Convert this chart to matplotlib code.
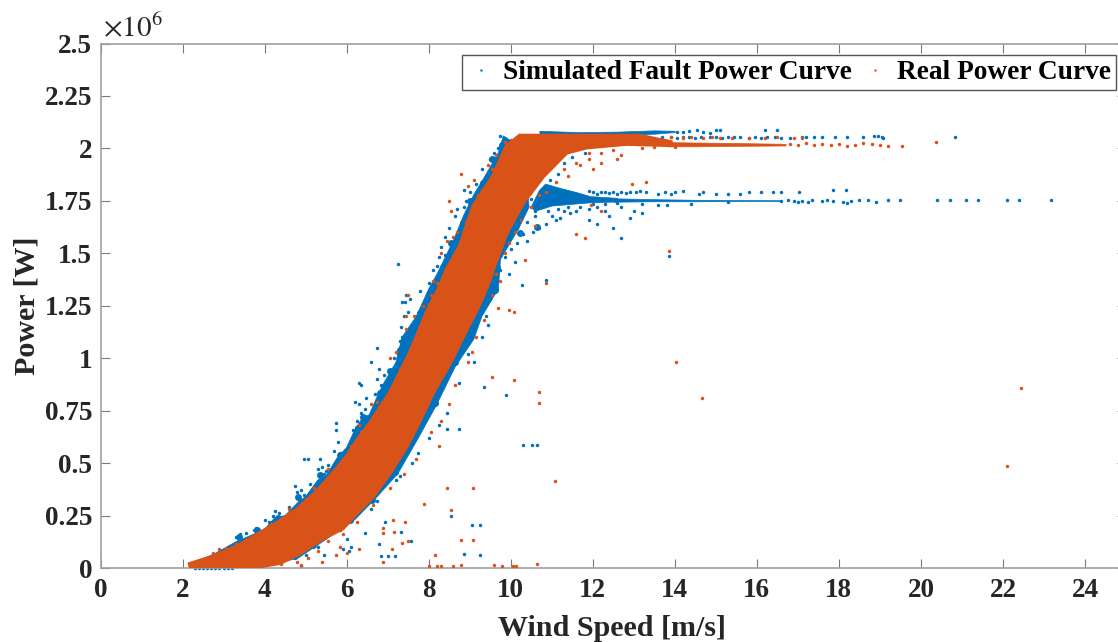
import numpy as np
import matplotlib
matplotlib.use('Agg')
import matplotlib.pyplot as plt

plt.rcParams['font.family'] = ['Liberation Serif', 'DejaVu Serif']
plt.rcParams['mathtext.fontset'] = 'stix'

blue = '#0072BD'
orange = '#D95319'
grey = '#7a7a7a'
text_col = '#262626'

# Dense part of the real curve, outline (wind m/s, power MW)
orange_core = [(2.18, .019), (2.75, .054), (3.24, .094), (3.81, .157), (4.29, .213), (4.78, .277), (5.27, .364),
               (5.67, .452), (6.0, .531), (6.32, .626), (6.57, .69), (7.05, .833), (7.54, 1.024), (7.95, 1.216),
               (8.27, 1.342), (8.44, 1.422), (8.76, 1.533), (9.09, 1.724), (9.57, 1.867), (9.9, 2.01), (10.22, 2.06),
               (11.44, 2.06), (13.15, 2.06), (13.5, 2.045), (13.9, 2.03), (13.9, 2.016), (12.82, 2.022), (11.85, 2.005),
               (11.36, 1.98), (10.79, 1.867), (10.3, 1.74), (9.9, 1.597), (9.56, 1.42), (9.49, 1.374), (9.25, 1.262),
               (8.92, 1.135), (8.52, .977), (8.1, .833), (7.7, .67), (7.46, .579), (7.05, .451), (6.64, .34),
               (6.24, .261), (5.91, .19), (5.43, .142), (4.86, .07), (4.37, .024), (3.81, .006), (3.4, .004), (2.2, .004)]

# Solid parts of the fault curve
blue_core = [(2.2, .02), (2.8, .07), (3.3, .125), (3.6, .15), (4.0, .185), (4.25, .24), (4.5, .25), (4.85, .32), (5.0, .34),
             (5.3, .42), (5.5, .44), (5.75, .52), (6.0, .575), (6.2, .66), (6.4, .72), (6.55, .73), (6.75, .82), (6.9, .88),
             (7.2, .98), (7.35, 1.1), (7.7, 1.2), (8.0, 1.33), (8.2, 1.4), (8.35, 1.46), (8.6, 1.56), (8.85, 1.68), (9.1, 1.78),
             (9.35, 1.86), (9.7, 1.98), (9.82, 2.06), (10.3, 2.0), (10.45, 1.72), (10.2, 1.62), (9.75, 1.47), (9.7, 1.33),
             (9.3, 1.2), (9.1, 1.09), (8.65, .96), (8.2, .78), (7.75, .62), (7.25, .45), (6.7, .33), (6.2, .23), (5.3, .11),
             (4.8, .045), (3.7, 0), (2.2, 0)]
blue_blob = [(10.5, 1.72), (10.7, 1.80), (10.85, 1.83), (11.2, 1.81), (11.6, 1.79), (11.95, 1.77), (12.6, 1.762), (12.6, 1.745),
             (11.9, 1.74), (11.0, 1.725), (10.6, 1.70)]
blue_fault_x = [12.5, 13.5, 14.5, 15.5, 16.6]
blue_fault_lo = [1.746, 1.748, 1.748, 1.749, 1.750]
blue_fault_hi = [1.762, 1.758, 1.755, 1.754, 1.753]
blue_top_x = [10.7, 11.3, 11.7, 12.6, 13.5, 14.0]
blue_top_lo = [2.066, 2.066, 2.066, 2.066, 2.07, 2.078]
blue_top_hi = [2.084, 2.08, 2.078, 2.08, 2.086, 2.084]
orange_tail_x = [13.8, 14.5, 15.3, 16.0, 16.7]
orange_tail_lo = [2.01, 2.01, 2.012, 2.013, 2.014]
orange_tail_hi = [2.03, 2.028, 2.026, 2.024, 2.022]

# Blotches of blue along both edges of the band
blue_clusters = [(3.37, .148), (3.81, .181), (4.32, .239), (4.81, .339), (5.35, .444), (5.84, .539), (6.27, .668),
                 (6.40, .72), (6.81, .835), (7.05, .94), (7.30, 1.04), (7.55, 1.13), (7.79, 1.217), (8.32, 1.398),
                 (8.35, 1.436), (8.55, 1.55), (8.83, 1.646), (9.0, 1.75), (9.32, 1.837), (9.55, 1.95), (9.78, 2.018),
                 (7.18, .458), (6.61, .324), (6.08, .229), (5.18, .11), (8.15, .787), (8.64, .983), (9.08, 1.15),
                 (9.61, 1.326), (9.66, 1.436), (10.22, 1.598), (10.64, 1.627), (7.4, 1.08), (8.1, 1.33), (9.2, 1.2)]

blue_pts = [
    (2.3, 0), (2.4, 0), (2.5, 0), (2.6, 0), (2.7, 0), (2.8, 0), (2.9, 0), (3.0, 0), (3.1, 0), (3.2, 0),
    (3.31, .15), (3.4, .16), (3.55, .165), (3.75, .18), (3.8, .19), (3.85, .175), (4.0, .23), (4.2, .25), (4.25, .27),
    (4.3, .23), (4.35, .26), (4.4, .22), (4.75, .39), (4.8, .36), (4.85, .33), (4.9, .37), (4.95, .35),
    (4.97, .52), (5.05, .52), (5.35, .52), (5.3, .47), (5.4, .48), (5.45, .45), (5.5, .46), (5.6, .44),
    (5.75, .69), (5.75, .66), (5.8, .6), (5.7, .56), (5.85, .55), (5.95, .53), (6.05, .5), (6.15, .66), (6.25, .7),
    (6.2, .79), (6.3, .78), (6.35, .74), (6.4, .71), (6.45, .76), (6.5, .69), (6.35, .87), (6.3, .88),
    (6.48, .81), (6.65, .73), (6.7, .83), (6.75, .9), (6.8, .95), (6.85, .87), (6.93, .82), (6.6, .98),
    (6.75, 1.05), (7.25, 1.02), (7.3, 1.08), (7.35, 1.1), (7.32, 1.15), (7.4, 1.2), (7.5, 1.22), (7.55, 1.28),
    (7.35, 1.27), (7.42, 1.27), (7.7, 1.2), (7.8, 1.32), (7.85, 1.26), (8.0, 1.36), (8.1, 1.42), (8.2, 1.44),
    (8.25, 1.48), (8.3, 1.53), (8.4, 1.58), (8.5, 1.62), (8.65, 1.68), (8.7, 1.71), (8.85, 1.72), (8.9, 1.75),
    (9.0, 1.79), (9.15, 1.83), (9.3, 1.9), (9.4, 1.87), (9.5, 1.95), (9.6, 1.98), (9.7, 2.0), (9.75, 2.06),
    (8.6, 1.55), (7.25, 1.45), (7.45, 1.3), (8.85, 1.8), (8.4, 1.49), (7.95, 1.3), (7.65, 1.16), (7.15, 1.0),
    (6.9, .92), (6.2, .62), (6.0, .56), (5.55, .49), (5.1, .4), (4.6, .29), (4.1, .22),
    (10.0, 1.52), (10.15, 1.55), (10.3, 1.59), (10.4, 1.56), (10.55, 1.6), (10.7, 1.62), (10.85, 1.64),
    (11.0, 1.68), (11.1, 1.66), (11.2, 1.67), (11.3, 1.7), (11.45, 1.69), (11.6, 1.7), (9.75, 1.42), (9.85, 1.48),
    (9.95, 1.4), (10.1, 1.46), (12.1, 1.72), (12.3, 1.7), (12.4, 1.68), (12.7, 1.72), (13.0, 1.7), (13.2, 1.69),
    (10.4, 1.65), (10.6, 1.68), (10.9, 1.7), (11.15, 1.71), (11.4, 1.72), (11.7, 1.72), (11.9, 1.71), (12.0, 1.735),
    (10.35, 1.72), (10.5, 1.76), (10.6, 1.7), (10.45, 1.79), (10.55, 1.83), (10.25, 1.68), (10.15, 1.62),
    (8.72, 1.05), (8.95, 1.02), (9.1, .98), (8.75, .88), (8.45, .74), (8.25, .68), (8.0, .62), (7.75, .55),
    (7.6, .5), (7.3, .44), (7.2, .42), (6.75, .32), (6.6, .28), (5.85, .18), (6.0, .14), (5.9, .09), (6.05, .08),
    (6.1, .1), (5.0, .06), (4.75, .05), (4.9, .01), (5.3, .1), (5.45, .06), (6.45, .167), (6.8, .116),
    (6.93, .22), (7.32, .17), (7.58, .13), (7.19, .059), (7.02, .059), (6.84, .059), (9.4, 1.2), (9.5, 1.28),
    (9.45, 1.16), (9.3, 1.1),
    # upper plateau strand
    (14.05, 2.08), (14.2, 2.078), (14.35, 2.082), (14.55, 2.088), (14.7, 2.08), (14.85, 2.075), (15.0, 2.09), (15.1, 2.09),
    (16.2, 2.09), (16.5, 2.09),
    # blue strand just above the real tail
    (12.95, 2.052), (13.1, 2.05), (13.3, 2.055), (13.5, 2.05), (13.7, 2.052), (13.9, 2.055), (14.05, 2.05), (14.2, 2.056),
    (14.35, 2.054), (14.5, 2.05), (14.65, 2.055), (14.85, 2.052), (15.0, 2.055), (15.15, 2.05), (15.3, 2.056), (15.45, 2.052),
    (15.6, 2.055), (15.8, 2.05), (15.95, 2.055), (16.1, 2.05), (16.25, 2.055), (16.45, 2.052), (16.6, 2.05), (16.8, 2.05),
    (17.1, 2.052), (17.2, 2.055), (17.4, 2.056), (17.6, 2.053), (17.9, 2.056), (18.2, 2.056), (18.6, 2.052), (18.85, 2.058),
    (18.95, 2.057), (19.05, 2.056), (19.07, 2.05), (20.84, 2.053),
    # upper fault strand
    (11.9, 1.795), (12.0, 1.79), (12.1, 1.785), (12.2, 1.79), (12.3, 1.793), (12.4, 1.788), (12.5, 1.792), (12.6, 1.785),
    (12.7, 1.79), (12.8, 1.787), (12.9, 1.793), (13.05, 1.79), (13.15, 1.795), (13.3, 1.79), (13.6, 1.783), (13.75, 1.79),
    (13.9, 1.785), (14.0, 1.793), (14.2, 1.795), (14.6, 1.785), (14.7, 1.79), (15.0, 1.785), (15.3, 1.785), (15.6, 1.785),
    (15.8, 1.79), (16.1, 1.79), (16.4, 1.79), (16.6, 1.79), (17.04, 1.79), (17.85, 1.8), (18.17, 1.8),
    # lower fault line
    (11.9, 1.752), (12.3, 1.735), (12.6, 1.74), (13.2, 1.735), (13.6, 1.73), (13.8, 1.728), (14.4, 1.735), (15.3, 1.745),
    (16.6, 1.748), (16.75, 1.752), (16.9, 1.75), (17.0, 1.745), (17.1, 1.75), (17.25, 1.745), (17.35, 1.752), (17.6, 1.748),
    (17.7, 1.752), (17.85, 1.75), (18.1, 1.745), (18.2, 1.74), (18.3, 1.75), (18.5, 1.752), (18.7, 1.752), (18.9, 1.745),
    (19.2, 1.752), (19.5, 1.752), (20.4, 1.752), (20.7, 1.752), (21.1, 1.752), (21.4, 1.752), (22.1, 1.752), (22.4, 1.752),
    (23.17, 1.752),
    # lone points
    (12.7, 1.574), (13.86, 1.489), (10.27, 1.35), (10.85, 1.375), (9.35, .865), (9.88, .825), (10.3, .587),
    (10.52, .587), (10.63, .587), (8.44, .663), (8.75, .663), (8.54, .246), (9.06, .203), (9.24, .203),
    (8.85, .068), (9.24, .06), (11.3, 1.93), (11.5, 1.96), (11.15, 1.88), (10.95, 1.85), (11.8, 1.98),
    (12.1, 1.64), (12.5, 1.62), (11.9, 1.66), (12.9, 1.67),
]

orange_pts = [
    (2.5, .04), (2.75, .07), (2.9, .09), (3.05, .095), (3.2, .1), (3.3, .115), (3.6, .13), (3.95, .16), (4.15, .21),
    (4.5, .22), (4.6, .28), (4.65, .25), (5.0, .33), (5.2, .38), (5.4, .39), (5.55, .47), (5.75, .47), (5.95, .52),
    (6.1, .58), (6.3, .68), (6.35, .65), (6.6, .78), (6.75, .79), (7.05, 1.0), (7.2, 1.03), (7.3, .95), (7.45, 1.14),
    (7.65, 1.2), (7.5, 1.3), (7.85, 1.25), (8.1, 1.37), (8.2, 1.36), (8.3, 1.5), (8.45, 1.56), (8.55, 1.7), (8.7, 1.6),
    (8.9, 1.65), (8.95, 1.82), (9.1, 1.85), (9.3, 1.8), (9.45, 1.92), (9.55, 1.9), (9.65, 1.97), (9.85, 2.03), (10.0, 2.04),
    (8.8, 1.88), (8.5, 1.75), (8.6, 1.58), (8.05, 1.3), (7.45, 1.2), (9.2, 1.78), (9.7, 1.93), (8.0, 1.26),
    (9.65, 1.4), (9.75, 1.37), (9.95, 1.55), (10.1, 1.6), (10.35, 1.47), (10.6, 1.63), (9.7, 1.24), (9.15, 1.1),
    (8.95, .98), (8.65, .87), (8.5, .78), (8.3, .7), (8.05, .65), (7.7, .52), (7.4, .45), (7.05, .38), (6.65, .3),
    (6.25, .22), (5.9, .16), (5.55, .13), (5.3, .08), (5.05, .05), (4.8, .03), (4.4, .02), (5.85, .1), (6.0, .07),
    (6.3, .09), (5.4, .03), (4.9, .015), (5.75, .06), (9.35, 1.18), (9.55, 1.3), (9.85, 1.5), (10.25, 1.66), (10.5, 1.72),
    (10.85, 1.79), (11.1, 1.84), (11.3, 1.9), (11.6, 1.93), (11.9, 1.95), (11.4, 1.87), (10.7, 1.78), (9.05, 1.03),
    (6.88, .19), (6.88, .167), (7.13, .227), (7.43, .22), (7.16, .17), (7.36, .12), (7.49, .13), (7.1, .09), (6.88, .027),
    (8.26, .58), (8.45, .38), (9.09, .38), (7.89, .305), (8.54, .275), (8.78, .135), (9.09, .135), (8.15, .06),
    (8.0, .008), (8.2, .01), (8.3, .01), (8.6, .008), (8.8, .012), (9.6, .012), (9.8, .01), (10.05, .01), (10.12, .008),
    (10.65, .017), (9.54, .91), (10.07, .897), (10.7, .838), (10.7, .786), (11.07, .417), (9.96, 1.23), (10.07, 1.22),
    (10.85, 1.36), (11.8, 1.574), (12.6, 1.95), (12.0, 1.9), (11.7, 1.92), (12.2, 1.93), (12.7, 1.97), (13.2, 2.0),
    (11.9, 1.98), (12.2, 1.98), (12.5, 1.99), (13.5, 2.005), (14.0, 2.005), (14.02, .983), (14.66, .811),
    (22.43, .859), (22.09, .487), (13.86, 1.512), (12.2, 1.7), (12.95, 1.83), (13.3, 1.84), (11.95, 1.73), (11.6, 1.59),
    (16.8, 2.02), (17.0, 2.018), (17.2, 2.025), (17.4, 2.015), (17.6, 2.02), (17.8, 2.015), (18.0, 2.02), (18.2, 2.012),
    (18.4, 2.018), (18.6, 2.025), (18.8, 2.02), (19.0, 2.015), (19.2, 2.012), (19.55, 2.012), (20.38, 2.03),
    (13.4, 2.055), (13.9, 2.053), (14.4, 2.055), (14.9, 2.053), (15.4, 2.05), (15.8, 2.05), (14.2, 2.05), (14.7, 2.05),
    (15.1, 2.05), (16.2, 2.05), (16.5, 2.055), (16.9, 2.05), (17.1, 2.048),
]

xticks = list(range(0, 25, 2))
yticks = [0, 0.25, 0.5, 0.75, 1, 1.25, 1.5, 1.75, 2, 2.25, 2.5]
yticklabels = ['0', '0.25', '0.5', '0.75', '1', '1.25', '1.5', '1.75', '2', '2.25', '2.5']

W, H = 1118, 642
fig = plt.figure(figsize=(W / 100, H / 100), dpi=100)
ax = fig.add_axes([100.5 / W, 1 - 568 / H, (1126 - 100.5) / W, (568 - 43.5) / H])

ax.fill(*zip(*blue_core), color=blue, lw=0.5, zorder=2)
cx, cy = zip(*blue_clusters)
ax.plot(cx, cy, 'o', ms=5, mew=0, color=blue, zorder=2)
ax.fill(*zip(*blue_blob), color=blue, lw=0.5, zorder=2)
ax.fill_between(blue_fault_x, blue_fault_lo, blue_fault_hi, color=blue, lw=0.5, zorder=2)
ax.fill_between(blue_top_x, blue_top_lo, blue_top_hi, color=blue, lw=0.5, zorder=2)
bx, by = zip(*blue_pts)
ax.plot(bx, by, '.', ms=5, mew=0, color=blue, zorder=2, clip_on=False, label='Simulated Fault Power Curve')

ox, oy = zip(*orange_pts)
ax.plot(ox, oy, '.', ms=5, mew=0, color=orange, zorder=3, label='Real Power Curve')
ax.fill(*zip(*orange_core), color=orange, lw=3, zorder=3)
ax.fill_between(orange_tail_x, orange_tail_lo, orange_tail_hi, color=orange, lw=0.5, zorder=3)

ax.set_xlim(0, 25)
ax.set_ylim(0, 2.5)
ax.set_xticks(xticks)
ax.set_yticks(yticks)
ax.set_yticklabels(yticklabels)
ax.tick_params(direction='in', length=6.5, width=0.8, color=grey, top=True, right=True,
               labelsize=19.6, labelcolor=text_col)
ax.tick_params(axis='x', pad=7)
ax.tick_params(axis='y', pad=6)
for lab in ax.get_xticklabels() + ax.get_yticklabels():
    lab.set_fontweight('bold')
for s in ax.spines.values():
    s.set_color('#a0a0a0')
    s.set_linewidth(1.2)

fig.text(612.5 / W, 1 - 628 / H, 'Wind Speed [m/s]', fontsize=21.6, fontweight='bold', color=text_col,
         ha='center', va='center')
fig.text(27 / W, 1 - 306 / H, 'Power [W]', rotation=90, fontsize=21.6, fontweight='bold', color=text_col,
         ha='center', va='center')
fig.text(103 / W, 1 - 28 / H, r'$\times 10^{6}$', fontsize=21, color=text_col, ha='left', va='center')

leg = ax.legend(loc='upper left', bbox_to_anchor=(461.5 / W, 1 - 55 / H), bbox_transform=fig.transFigure,
                ncol=2, prop={'size': 19.7, 'weight': 'bold'}, fancybox=False, framealpha=1, edgecolor='#555555',
                borderpad=0.18, handlelength=1.05, handletextpad=0.29, columnspacing=0.3, markerscale=0.7,
                borderaxespad=0)
leg.get_frame().set_linewidth(1.0)
leg.set_zorder(5)

fig.savefig('out.png', dpi=100)
